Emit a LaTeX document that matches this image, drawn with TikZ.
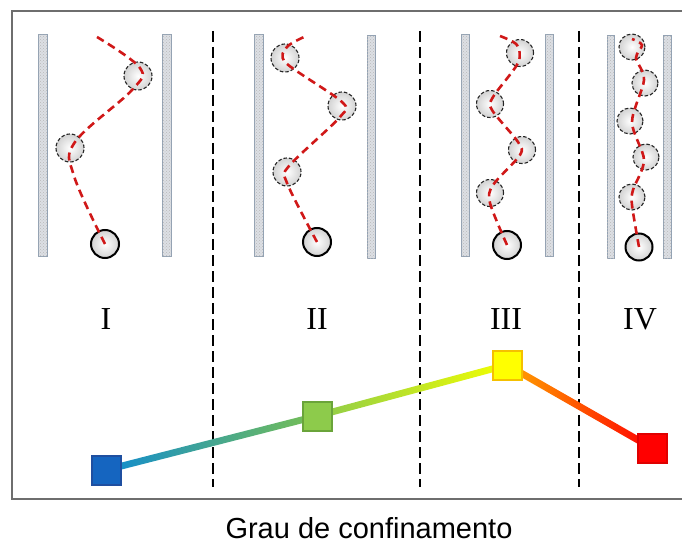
\documentclass[tikz,border=0pt]{standalone}
\usepackage{fontspec}
\setmainfont{Liberation Serif}
\newfontfamily\capfont{Liberation Sans}
\usetikzlibrary{patterns}
\definecolor{frameline}{HTML}{6E6E6E}
\definecolor{wallfill}{HTML}{DCDFE4}
\definecolor{wallline}{HTML}{93A2B3}
\definecolor{trailred}{HTML}{D01818}
\definecolor{mBlue}{HTML}{1565C0}
\definecolor{mBlueB}{HTML}{1F4FA0}
\definecolor{mGreen}{HTML}{8DCB4B}
\definecolor{mGreenB}{HTML}{6AA43A}
\definecolor{mYellow}{HTML}{FFFF00}
\definecolor{mYellowB}{HTML}{F5C000}
\definecolor{mRed}{HTML}{FF0000}
\definecolor{mRedB}{HTML}{E00000}
\begin{document}
\begin{tikzpicture}[x=1pt,y=-1pt,
  frame/.style={draw=frameline, line width=1.6pt},
  wall/.style={draw=wallline, fill=wallfill, line width=1pt,
    postaction={pattern=crosshatch dots, pattern color=gray!55}},
  bead/.style={circle, minimum size=28pt, inner sep=0pt, inner color=white,
    outer color=gray!35, draw=black!85, line width=1.1pt, dash pattern=on 3.5pt off 2pt},
  smallbead/.style={bead, minimum size=27pt},
  tinybead/.style={bead, minimum size=26pt},
  startbead/.style={bead, solid, draw=black, line width=2pt},
  trail/.style={draw=trailred, line width=2.6pt, dash pattern=on 8pt off 5pt},
  divider/.style={draw=black, line width=1.8pt, dash pattern=on 11pt off 5pt},
  marker/.style={rectangle, minimum size=29pt, inner sep=0pt, line width=2pt},
  numeral/.style={anchor=base, font=\fontsize{32}{36}\selectfont}]
\useasboundingbox (0,0) rectangle (682,545);

% outer frame (open on the right)
\draw[frame] (682,11) -- (12,11) -- (12,499) -- (682,499);

% stage dividers
\draw[divider] (213,31) -- (213,487);
\draw[divider] (420,31) -- (420,487);
\draw[divider] (579,31) -- (579,487);

% channel walls
\draw[wall] (38,35) rectangle (47,256);
\draw[wall] (162,35) rectangle (171,256);
\draw[wall] (254,35) rectangle (263,256);
\draw[wall] (367,36) rectangle (375,258);
\draw[wall] (461,35) rectangle (469,256);
\draw[wall] (545,35) rectangle (553,256);
\draw[wall] (607,36) rectangle (614,258);
\draw[wall] (663,36) rectangle (671,258);

% stage I
\node[startbead] (s1) at (105,244) {};
\node[bead] (a1) at (70,148) {};
\node[bead] (a2) at (138,76) {};
\draw[trail] plot[smooth, tension=0.6] coordinates
  {(s1.center) (74,176) (75,142) (132,90) (140,68) (97,37)};

% stage II
\node[startbead] (s2) at (317,242) {};
\node[bead] (b1) at (287,172) {};
\node[bead] (b2) at (342,106) {};
\node[bead] (b3) at (285,58) {};
\draw[trail] plot[smooth, tension=0.5] coordinates
  {(s2.center) (287,183) (289,166) (340,117) (342,102) (286,63) (287,47) (304,37)};

% stage III
\node[startbead] (s3) at (507,245) {};
\node[smallbead] (c1) at (490,193) {};
\node[smallbead] (c2) at (522,150) {};
\node[smallbead] (c3) at (490,104) {};
\node[smallbead] (c4) at (520,53) {};
\draw[trail] plot[smooth, tension=0.5] coordinates
  {(s3.center) (490,203) (493,185) (520,155) (518,142) (492,110) (493,97) (518,63) (517,45) (500,36)};

% stage IV
\node[startbead, minimum size=27pt] (s4) at (639,247) {};
\node[tinybead] (d1) at (632,197) {};
\node[tinybead] (d2) at (646,157) {};
\node[tinybead] (d3) at (630,121) {};
\node[tinybead] (d4) at (645,83) {};
\node[tinybead] (d5) at (632,47) {};
\draw[trail] plot[smooth, tension=0.5] coordinates
  {(s4.center) (632,205) (633,190) (644,160) (632,122) (644,80) (636,58) (642,45) (632,39)};

% stage labels
\node[numeral] (l1) at (106,329) {I};
\node[numeral] (l2) at (317,329) {II};
\node[numeral] (l3) at (506,329) {III};
\node[numeral] (l4) at (640,329) {IV};

% confinement curve
\coordinate (pB) at (106,470);
\coordinate (pG) at (317,416);
\coordinate (pY) at (507,365);
\coordinate (pR) at (652,448);
\shade[left color=mBlue!75!cyan, middle color=teal!60!green!80!black!90, right color=mGreen!85!teal]
  ([yshift=3.5pt]pB) -- ([yshift=3.5pt]pG) -- ([yshift=-3.5pt]pG) -- ([yshift=-3.5pt]pB) -- cycle;
\shade[left color=mGreen, middle color=yellow!75!green!90!white, right color=yellow!95!green]
  ([yshift=3.5pt]pG) -- ([yshift=3.5pt]pY) -- ([yshift=-3.5pt]pY) -- ([yshift=-3.5pt]pG) -- cycle;
\shade[left color=orange!70!yellow, middle color=orange!80!red, right color=red]
  ([yshift=4pt]pY) -- ([yshift=4pt]pR) -- ([yshift=-4pt]pR) -- ([yshift=-4pt]pY) -- cycle;
\node[marker, fill=mBlue, draw=mBlueB] (qB) at (pB) {};
\node[marker, fill=mGreen, draw=mGreenB] (qG) at (pG) {};
\node[marker, fill=mYellow, draw=mYellowB] (qY) at (pY) {};
\node[marker, fill=mRed, draw=mRedB] (qR) at (pR) {};

% axis caption
\node[anchor=base, font=\capfont\fontsize{29}{33}\selectfont] (cap) at (369,538) {Grau de confinamento};
\end{tikzpicture}
\end{document}
